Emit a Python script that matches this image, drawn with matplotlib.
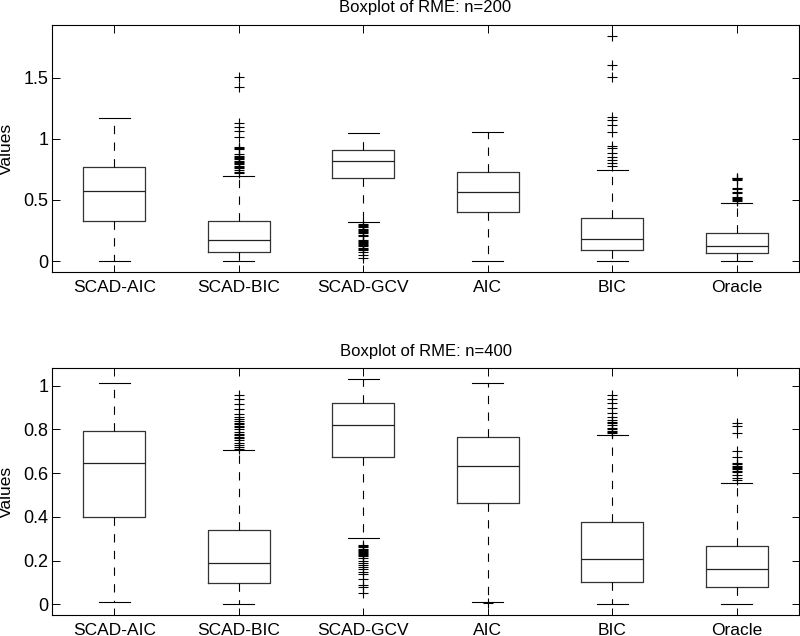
import matplotlib
matplotlib.use("Agg")
import matplotlib.pyplot as plt
from matplotlib.ticker import FuncFormatter

plt.rcParams['font.family'] = ['Liberation Sans', 'DejaVu Sans']
plt.rcParams['lines.scale_dashes'] = False

labels = ["SCAD-AIC", "SCAD-BIC", "SCAD-GCV", "AIC", "BIC", "Oracle"]

# n = 200
q1_200 = [0.327, 0.074, 0.675, 0.401, 0.088, 0.063]
med_200 = [0.575, 0.172, 0.818, 0.567, 0.183, 0.125]
q3_200 = [0.772, 0.327, 0.908, 0.731, 0.349, 0.227]
lo_200 = [0.0, 0.0, 0.317, 0.0, 0.0, 0.0]
hi_200 = [1.173, 0.698, 1.045, 1.053, 0.745, 0.477]
fl_200 = [
    [],
    [1.508, 1.426, 1.127, 1.099, 1.066, 1.012, 0.935, 0.925, 0.92, 0.876, 0.86,
     0.854, 0.84, 0.832, 0.82, 0.813, 0.80, 0.794, 0.78, 0.772, 0.76, 0.745,
     0.731, 0.72],
    [0.303, 0.295, 0.285, 0.275, 0.265, 0.255, 0.245, 0.235, 0.225, 0.215,
     0.205, 0.172, 0.165, 0.158, 0.15, 0.14, 0.13, 0.12, 0.11, 0.1, 0.09,
     0.076, 0.049, 0.022],
    [],
    [1.841, 1.604, 1.503, 1.181, 1.154, 1.113, 1.058, 0.941, 0.922, 0.886,
     0.854, 0.827, 0.805, 0.78],
    [0.68, 0.675, 0.67, 0.66, 0.6, 0.59, 0.565, 0.555, 0.525, 0.515, 0.505,
     0.5, 0.49],
]

# n = 400
q1_400 = [0.401, 0.099, 0.675, 0.465, 0.103, 0.079]
med_400 = [0.645, 0.19, 0.82, 0.634, 0.206, 0.16]
q3_400 = [0.793, 0.341, 0.919, 0.764, 0.375, 0.268]
lo_400 = [0.009, 0.001, 0.302, 0.012, 0.001, 0.001]
hi_400 = [1.015, 0.704, 1.029, 1.015, 0.775, 0.555]
fl_400 = [
    [],
    [0.957, 0.938, 0.915, 0.892, 0.87, 0.858, 0.85, 0.84, 0.83, 0.825, 0.815,
     0.81, 0.80, 0.79, 0.78, 0.774, 0.765, 0.759, 0.75, 0.74, 0.73, 0.721,
     0.712],
    [0.27, 0.265, 0.26, 0.255, 0.25, 0.245, 0.24, 0.235, 0.23, 0.225, 0.22,
     0.21, 0.2, 0.19, 0.18, 0.17, 0.16, 0.15, 0.14, 0.115, 0.09, 0.08, 0.05],
    [0.008],
    [0.957, 0.938, 0.919, 0.897, 0.877, 0.858, 0.842, 0.835, 0.83, 0.82,
     0.805, 0.8, 0.795, 0.79, 0.785],
    [0.831, 0.816, 0.782, 0.703, 0.675, 0.645, 0.64, 0.635, 0.63, 0.625,
     0.62, 0.61, 0.605, 0.59, 0.58, 0.57],
]

titles = ["Boxplot of RME: n=200", "Boxplot of RME: n=400"]


def make_stats(q1, med, q3, lo, hi, fl):
    return [dict(label=labels[i], q1=q1[i], med=med[i], q3=q3[i],
                 whislo=lo[i], whishi=hi[i], fliers=fl[i])
            for i in range(len(labels))]


fig = plt.figure(figsize=(8.0, 6.36), dpi=100)
ax1 = fig.add_axes([0.065, 0.5723, 0.93375, 0.3884])
ax2 = fig.add_axes([0.065, 0.0330, 0.93375, 0.3879])

panels = [
    (ax1, make_stats(q1_200, med_200, q3_200, lo_200, hi_200, fl_200),
     (-0.09, 1.93), [0, 0.5, 1, 1.5], titles[0]),
    (ax2, make_stats(q1_400, med_400, q3_400, lo_400, hi_400, fl_400),
     (-0.049, 1.08), [0, 0.2, 0.4, 0.6, 0.8, 1.0], titles[1]),
]

for ax, stats, ylim, yticks, title in panels:
    ax.bxp(stats, positions=range(1, 7), widths=0.5, capwidths=0.25,
           showfliers=True,
           boxprops=dict(color='#333333', linewidth=0.9),
           medianprops=dict(color='#222222', linewidth=0.9),
           whiskerprops=dict(color='black', linewidth=0.8,
                             linestyle=(0, (6, 6))),
           capprops=dict(color='black', linewidth=0.8),
           flierprops=dict(marker='+', markersize=7.5, markeredgewidth=0.8,
                           markeredgecolor='black', linestyle='none'))
    ax.set_xlim(0.5, 6.5)
    ax.set_ylim(*ylim)
    ax.set_yticks(yticks)
    ax.yaxis.set_major_formatter(FuncFormatter(lambda v, p: f"{v:g}"))
    ax.set_xticks(range(1, 7))
    ax.set_xticklabels(labels)
    ax.tick_params(direction='in', length=5.4, width=0.7,
                   top=True, right=True, colors='black')
    ax.tick_params(axis='x', pad=6, labelsize=12.5)
    ax.tick_params(axis='y', pad=2.5, labelsize=13)
    ax.set_title(title, fontsize=12, pad=9)
    ax.set_ylabel("Values", fontsize=12.5)
    ax.yaxis.set_label_coords(-0.051, 0.5)
    for s in ax.spines.values():
        s.set_linewidth(0.8)

fig.savefig("out.png", dpi=100)
